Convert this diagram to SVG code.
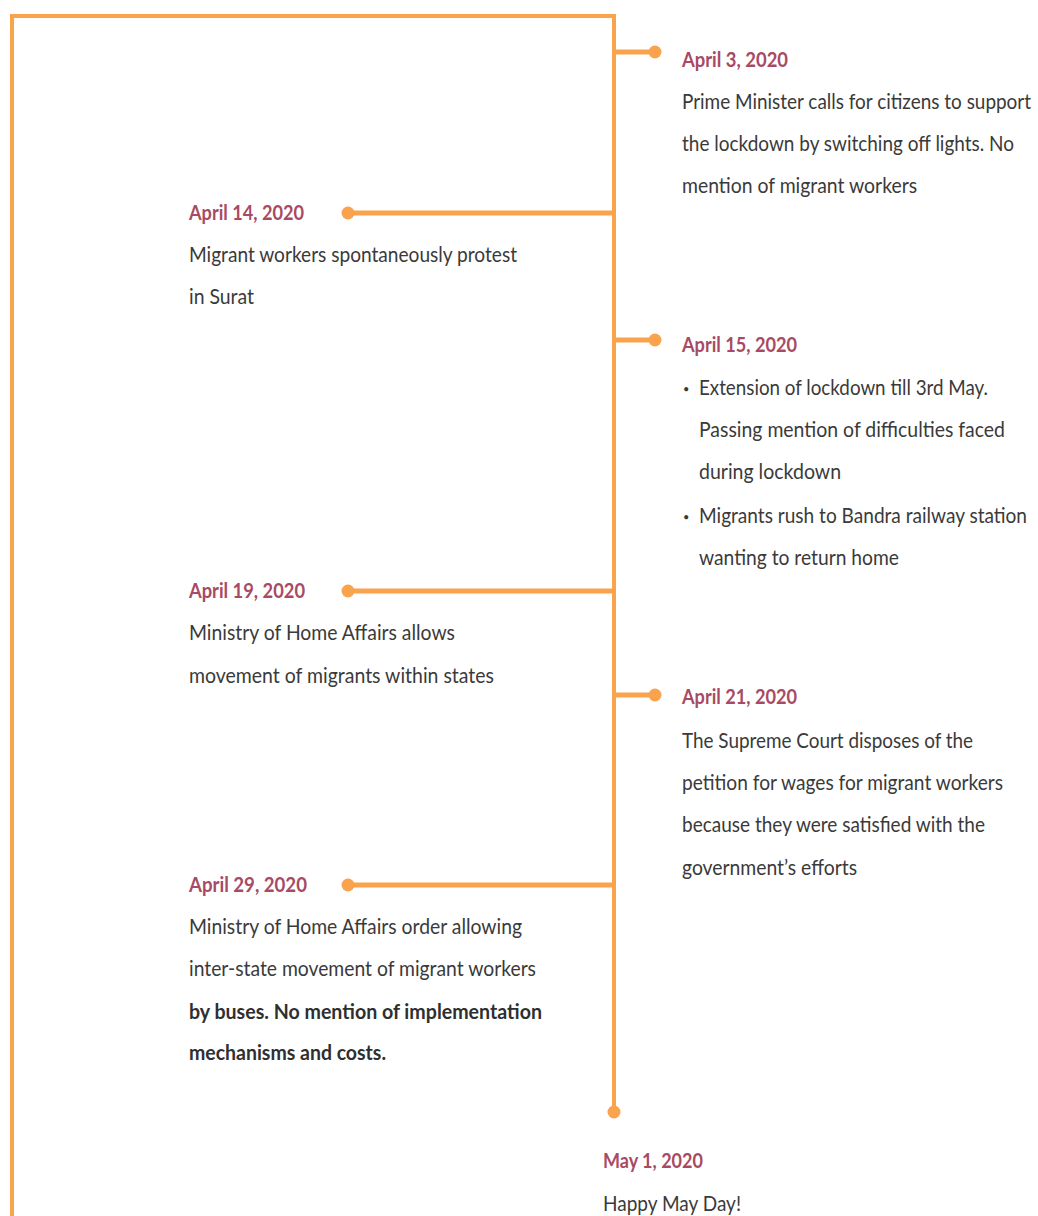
<svg xmlns="http://www.w3.org/2000/svg" width="1038" height="1216" viewBox="0 0 1038 1216">
  <style>
    .line { stroke: #F9A34D; stroke-width: 4; fill: none; stroke-linecap: butt; }
    .branch { stroke: #F9A34D; stroke-width: 5; fill: none; }
    .dot { fill: #F9A34D; }
    text { font-family: "Lato", "Liberation Sans", sans-serif; font-size: 21.5px; }
    .date { fill: #A84A63; font-weight: 700; }
    .body { fill: #3A3A3A; }
    .strong { fill: #2F2F2F; font-weight: 700; }
    .bullet { fill: #3A3A3A; font-size: 11px; }
  </style>

  <rect x="0" y="0" width="1038" height="1216" fill="#FFFFFF"/>

  <!-- frame, timeline spine and branches -->
  <g id="connectors">
    <path class="line" d="M12 1216 V16 H614 V1112"/>
    <path class="branch" d="M614 52 H655"/>
    <path class="branch" d="M614 213 H348"/>
    <path class="branch" d="M614 340 H655"/>
    <path class="branch" d="M614 591 H348"/>
    <path class="branch" d="M614 695 H655"/>
    <path class="branch" d="M614 885 H348"/>
  </g>

  <!-- every label is set in a horizontally condensed face: scale(.85 1) -->
  <g id="apr3">
    <circle class="dot" cx="655" cy="52" r="6.5"/>
    <text class="date" transform="translate(682 67) scale(.85 1)" textLength="124.7" lengthAdjust="spacingAndGlyphs">April 3, 2020</text>
    <text class="body" transform="translate(682 109) scale(.85 1)" textLength="410.6" lengthAdjust="spacingAndGlyphs">Prime Minister calls for citizens to support</text>
    <text class="body" transform="translate(682 151) scale(.85 1)" textLength="390.6" lengthAdjust="spacingAndGlyphs">the lockdown by switching off lights. No</text>
    <text class="body" transform="translate(682 193) scale(.85 1)" textLength="276.5" lengthAdjust="spacingAndGlyphs">mention of migrant workers</text>
  </g>

  <g id="apr14">
    <circle class="dot" cx="348" cy="213" r="6.5"/>
    <text class="date" transform="translate(189 220) scale(.85 1)" textLength="135.3" lengthAdjust="spacingAndGlyphs">April 14, 2020</text>
    <text class="body" transform="translate(189 262) scale(.85 1)" textLength="385.9" lengthAdjust="spacingAndGlyphs">Migrant workers spontaneously protest</text>
    <text class="body" transform="translate(189 304) scale(.85 1)" textLength="76.5" lengthAdjust="spacingAndGlyphs">in Surat</text>
  </g>

  <g id="apr15">
    <circle class="dot" cx="655" cy="340" r="6.5"/>
    <text class="date" transform="translate(682 352) scale(.85 1)" textLength="135.3" lengthAdjust="spacingAndGlyphs">April 15, 2020</text>
    <text class="bullet" x="683" y="393">•</text>
    <text class="body" transform="translate(699 395) scale(.85 1)" textLength="340" lengthAdjust="spacingAndGlyphs">Extension of lockdown till 3rd May.</text>
    <text class="body" transform="translate(699 437) scale(.85 1)" textLength="360" lengthAdjust="spacingAndGlyphs">Passing mention of difficulties faced</text>
    <text class="body" transform="translate(699 479) scale(.85 1)" textLength="167.1" lengthAdjust="spacingAndGlyphs">during lockdown</text>
    <text class="bullet" x="683" y="521">•</text>
    <text class="body" transform="translate(699 523) scale(.85 1)" textLength="385.9" lengthAdjust="spacingAndGlyphs">Migrants rush to Bandra railway station</text>
    <text class="body" transform="translate(699 565) scale(.85 1)" textLength="235.3" lengthAdjust="spacingAndGlyphs">wanting to return home</text>
  </g>

  <g id="apr19">
    <circle class="dot" cx="348" cy="591" r="6.5"/>
    <text class="date" transform="translate(189 598) scale(.85 1)" textLength="136.5" lengthAdjust="spacingAndGlyphs">April 19, 2020</text>
    <text class="body" transform="translate(189 640) scale(.85 1)" textLength="312.9" lengthAdjust="spacingAndGlyphs">Ministry of Home Affairs allows</text>
    <text class="body" transform="translate(189 683) scale(.85 1)" textLength="358.8" lengthAdjust="spacingAndGlyphs">movement of migrants within states</text>
  </g>

  <g id="apr21">
    <circle class="dot" cx="655" cy="695" r="6.5"/>
    <text class="date" transform="translate(682 704) scale(.85 1)" textLength="135.3" lengthAdjust="spacingAndGlyphs">April 21, 2020</text>
    <text class="body" transform="translate(682 748) scale(.85 1)" textLength="342.4" lengthAdjust="spacingAndGlyphs">The Supreme Court disposes of the</text>
    <text class="body" transform="translate(682 790) scale(.85 1)" textLength="377.6" lengthAdjust="spacingAndGlyphs">petition for wages for migrant workers</text>
    <text class="body" transform="translate(682 832) scale(.85 1)" textLength="356.5" lengthAdjust="spacingAndGlyphs">because they were satisfied with the</text>
    <text class="body" transform="translate(682 875) scale(.85 1)" textLength="205.9" lengthAdjust="spacingAndGlyphs">government’s efforts</text>
  </g>

  <g id="apr29">
    <circle class="dot" cx="348" cy="885" r="6.5"/>
    <text class="date" transform="translate(189 892) scale(.85 1)" textLength="138.8" lengthAdjust="spacingAndGlyphs">April 29, 2020</text>
    <text class="body" transform="translate(189 934) scale(.85 1)" textLength="391.8" lengthAdjust="spacingAndGlyphs">Ministry of Home Affairs order allowing</text>
    <text class="body" transform="translate(189 976) scale(.85 1)" textLength="408.2" lengthAdjust="spacingAndGlyphs">inter-state movement of migrant workers</text>
    <text class="strong" transform="translate(189 1019) scale(.85 1)" textLength="415.3" lengthAdjust="spacingAndGlyphs">by buses. No mention of implementation</text>
    <text class="strong" transform="translate(189 1060) scale(.85 1)" textLength="231.8" lengthAdjust="spacingAndGlyphs">mechanisms and costs.</text>
  </g>

  <g id="may1">
    <circle class="dot" cx="614" cy="1112" r="6.5"/>
    <text class="date" transform="translate(603 1168) scale(.85 1)" textLength="117.6" lengthAdjust="spacingAndGlyphs">May 1, 2020</text>
    <text class="body" transform="translate(603 1211) scale(.85 1)" textLength="162.4" lengthAdjust="spacingAndGlyphs">Happy May Day!</text>
  </g>
</svg>
